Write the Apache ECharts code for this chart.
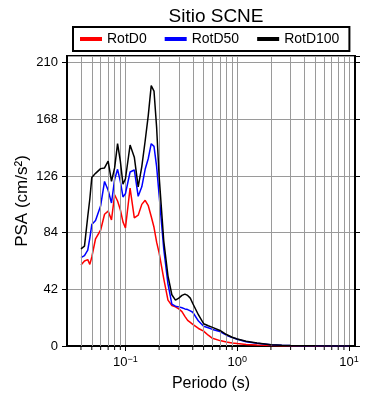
<!DOCTYPE html>
<html>
<head>
<meta charset="utf-8">
<script src="https://cdn.jsdelivr.net/npm/echarts@6/dist/echarts.min.js"></script>
<style>html,body{margin:0;padding:0;background:#fff}#c{width:390px;height:400px}</style>
</head>
<body>
<div id="c"></div>
<script>
const periods = [0.04,0.043,0.046,0.048,0.05,0.054,0.06,0.065,0.07,0.075,0.08,0.085,0.09,0.095,0.1,0.11,0.12,0.13,0.14,0.15,0.16,0.17,0.18,0.19,0.2,0.22,0.24,0.26,0.28,0.3,0.32,0.34,0.36,0.38,0.4,0.45,0.5,0.55,0.6,0.7,0.8,0.9,1.0,1.2,1.5,2,2.5,3,4,5,7.5,10];
const rotD0 = [60,63,64,60.5,66, 79.5,86,97.7,100,93.5, 112,107.5,101,92,87.5, 117,95,97,105,108, 104,96,88,77,69, 50,34,30,29,27.5, 25.5,22,19,17.5,16, 13,11,8,5.7,4, 3,2.3,1.8,1.2,0.8, 0.4,0.25,0.15,0.1,0.07, 0.04,0.03];
const rotD50 = [65.5,67,71,80,90, 93,104,122,115.5,106, 123.5,131,122,110.5,113, 129,130.5,111,118,131, 139,150,148,133,112, 72,46,31,29.5,29, 28.3,27.5,27,26,25, 18.5,14.7,13.5,12.3,10.7, 8,6.3,5,3.2,2, 0.9,0.5,0.35,0.2,0.12, 0.06,0.04];
const rotD100 = [72,74,96,109,125, 128,131.5,132,137,122, 132,150,137,120,124, 149,140,118,133,152, 171,193,189,162,126, 78,52,38,34,35.5, 37.5,38.5,37.5,35.5,31.5, 23,16.5,15,13.8,11.5, 8.5,6.5,5.2,3.5,2.2, 1.0,0.6,0.4,0.2,0.15, 0.08,0.05];
const minorGridPeriods = [0.04,0.05,0.06,0.07,0.08,0.09,0.2,0.3,0.4,0.5,0.6,0.7,0.8,0.9,2,3,4,5,6,7,8,9];
const seriesNames = ['RotD0','RotD50','RotD100'];
const seriesColors = ['#ff0000','#0000ff','#000000'];

const FONT = 'Liberation Sans, Arial, Helvetica, sans-serif';
const chart = echarts.init(document.getElementById('c'), null, {renderer:'canvas'});
const pairs = arr => periods.map((p,i)=>[p,arr[i]]);
const allData = [rotD0, rotD50, rotD100];

function xLabel(v){
  const l = Math.log10(v);
  const e = Math.round(l);
  if (Math.abs(l-e) > 1e-6) return '';
  const s = e < 0 ? '\u2212' + Math.abs(e) : String(e);
  return '10{s|' + s + '}';
}

chart.setOption({
  backgroundColor:'#fff',
  animation:false,
  textStyle:{fontFamily:FONT},
  title:{text:'Sitio SCNE', left:211, textAlign:'center', top:2,
    textStyle:{fontSize:19, fontWeight:'normal', color:'#000', fontFamily:FONT}},
  legend:{data:seriesNames, left:73, top:27, padding:[5,10,5,7], itemGap:18,
    itemWidth:22, itemHeight:4, icon:'rect',
    borderColor:'#000', borderWidth:2,
    textStyle:{fontSize:14, color:'#000', fontFamily:FONT}},
  grid:{left:67, right:35, top:56, bottom:54, show:true, borderColor:'#000', borderWidth:2, containLabel:false, outerBoundsMode:'none'},
  xAxis:[{type:'log', logBase:10, min:0.03, max:11.3,
    name:'Periodo (s)', nameLocation:'middle', nameGap:30, nameMoveOverlap:false,
    nameTextStyle:{fontSize:16, color:'#000', fontFamily:FONT},
    axisLine:{show:true, lineStyle:{color:'#000', width:2}},
    axisTick:{show:true, inside:false, length:5, lineStyle:{color:'#000'}},
    axisLabel:{formatter:xLabel, showMinLabel:false, showMaxLabel:false, margin:9, color:'#000', fontSize:13,
      rich:{s:{fontSize:9, verticalAlign:'top', padding:[0,0,6,0], color:'#000'}}},
    splitLine:{show:true, lineStyle:{color:'#9a9a9a', width:1}},
    minorTick:{show:false}}],
  yAxis:[{type:'value', min:0, max:215, interval:42,
    name:'PSA (cm/s\u00b2)', nameLocation:'middle', nameGap:36, nameMoveOverlap:false,
    nameTextStyle:{fontSize:17, color:'#000', fontFamily:FONT},
    axisLine:{show:true, lineStyle:{color:'#000', width:2}},
    axisTick:{show:true, length:5, lineStyle:{color:'#000'}},
    axisLabel:{margin:9, color:'#000', fontSize:13, showMaxLabel:false,
      formatter:v => (v % 42 === 0 ? String(v) : '')},
    splitLine:{show:true, lineStyle:{color:'#9a9a9a', width:1}}},
   {type:'value', min:0, max:215, interval:42, position:'right',
    axisLine:{show:true, lineStyle:{color:'#000', width:2}},
    axisTick:{show:true, length:5, lineStyle:{color:'#000'}},
    axisLabel:{show:false}, splitLine:{show:false}}],
  series:[
    {type:'line', name:'_grid', data:[], z:1, silent:true,
     markLine:{silent:true, symbol:['none','none'], label:{show:false},
       lineStyle:{color:'#9a9a9a', width:1, type:'solid'},
       emphasis:{disabled:true},
       data:minorGridPeriods.map(p=>({xAxis:p}))}},
    {type:'custom', name:'_ticks', silent:true, clip:false, z:2,
     data:minorGridPeriods.map(p=>[p,0]),
     renderItem:(params, api)=>{
       const pt = api.coord([api.value(0), 0]);
       return {type:'line', shape:{x1:pt[0], y1:pt[1]+1, x2:pt[0], y2:pt[1]+4},
         style:{stroke:'#000', lineWidth:1}};
     }}
  ].concat(seriesNames.map((n,i)=>({
    type:'line', name:n, data:pairs(allData[i]), showSymbol:false, symbol:'none',
    z:3+i, lineStyle:{color:seriesColors[i], width:1.5}, itemStyle:{color:seriesColors[i]}
  })))
});
</script>
</body>
</html>
